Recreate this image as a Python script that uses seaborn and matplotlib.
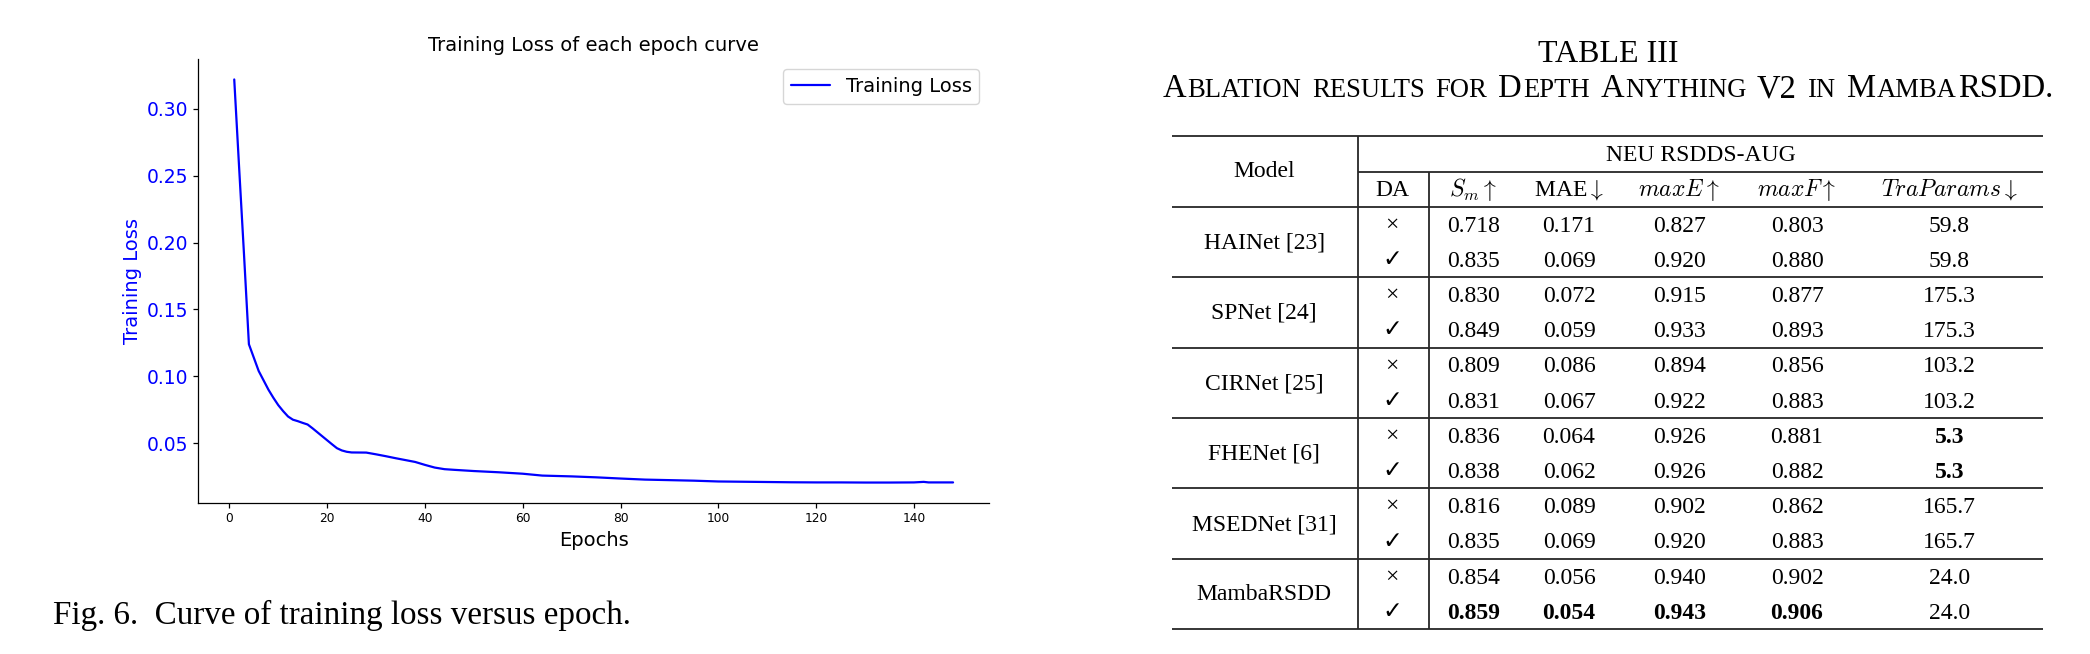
import matplotlib
matplotlib.use('Agg')
import matplotlib.pyplot as plt
import seaborn as sns
import pandas as pd

# ---------------- data: training-loss curve ----------------
epochs = [1, 2, 3, 4, 5, 6, 7, 8, 9, 10, 11, 12, 13, 14, 15, 16, 17, 18, 19, 20,
          21, 22, 23, 24, 25, 28, 30, 32, 34, 36, 38, 40, 42, 44, 46, 50, 55, 60,
          64, 70, 75, 80, 85, 90, 95, 100, 105, 110, 115, 120, 125, 130, 135,
          140, 142, 143, 148]
loss = [0.322, 0.256, 0.191, 0.124, 0.114, 0.104, 0.097, 0.090, 0.084, 0.0785,
        0.074, 0.070, 0.0676, 0.0665, 0.0652, 0.0640, 0.0612, 0.0582, 0.0552, 0.0522,
        0.0492, 0.0463, 0.0446, 0.0436, 0.0431, 0.0430, 0.0417, 0.0403, 0.0388, 0.0374,
        0.0360, 0.0338, 0.0318, 0.0306, 0.0301, 0.0292, 0.0283, 0.0272, 0.0258, 0.0252,
        0.0245, 0.0236, 0.0228, 0.0224, 0.0220, 0.0214, 0.0212, 0.0210, 0.0208, 0.0207,
        0.0207, 0.0206, 0.0206, 0.0207, 0.0211, 0.0207, 0.0207]

# ---------------- data: ablation table ----------------
models = ['HAINet [23]', 'SPNet [24]', 'CIRNet [25]', 'FHENet [6]', 'MSEDNet [31]', 'MambaRSDD']
da_marks = ['\u00d7', '\u2713']
sm_vals = [[0.718, 0.835], [0.830, 0.849], [0.809, 0.831], [0.836, 0.838], [0.816, 0.835], [0.854, 0.859]]
mae_vals = [[0.171, 0.069], [0.072, 0.059], [0.086, 0.067], [0.064, 0.062], [0.089, 0.069], [0.056, 0.054]]
maxe_vals = [[0.827, 0.920], [0.915, 0.933], [0.894, 0.922], [0.926, 0.926], [0.902, 0.920], [0.940, 0.943]]
maxf_vals = [[0.803, 0.880], [0.877, 0.893], [0.856, 0.883], [0.881, 0.882], [0.862, 0.883], [0.902, 0.906]]
params = [59.8, 175.3, 103.2, 5.3, 165.7, 24.0]
col_headers = [r'$S_m\uparrow$', r'MAE$\downarrow$', r'$maxE\uparrow$', r'$maxF\uparrow$', r'$TraParams\downarrow$']
higher_better = [True, False, True, True, False]
table_title = 'TABLE III'
table_subtitle = 'Ablation results for Depth Anything V2 in MambaRSDD.'
dataset_name = 'NEU RSDDS-AUG'
fig_caption = 'Fig. 6.  Curve of training loss versus epoch.'

# ---------------- style ----------------
sns.set_style('ticks', rc={'axes.edgecolor': 'black', 'xtick.color': 'black',
                           'ytick.color': 'black', 'text.color': 'black',
                           'axes.labelcolor': 'black'})
plt.rcParams['font.family'] = ['DejaVu Sans']
plt.rcParams['mathtext.fontset'] = 'cm'

W, H = 2090, 654
fig = plt.figure(figsize=(W / 100, H / 100), dpi=100)

# ---------------- chart ----------------
ax = fig.add_axes([198.3 / W, 1 - 502.7 / H, (989 - 198.3) / W, (502.7 - 59.3) / H])
df = pd.DataFrame({'Epochs': epochs, 'Training Loss': loss})
sns.lineplot(data=df, x='Epochs', y='Training Loss', color='blue', linewidth=1.6,
             label='Training Loss', ax=ax)
ax.set_title('Training Loss of each epoch curve', fontsize=14)
ax.set_xlabel('Epochs', fontsize=14)
ax.set_ylabel('Training Loss', fontsize=14, color='blue')
ax.tick_params(axis='y', labelcolor='blue', labelsize=13.5, width=0.9)
ax.tick_params(axis='x', labelsize=8.8, width=0.9)
for s in ax.spines.values():
    s.set_linewidth(0.9)
sns.despine(ax=ax)
ax.legend(loc='upper right', fontsize=14)

# ---------------- table (overlay in pixel units) ----------------
tab = fig.add_axes([0, 0, 1, 1])
tab.set_xlim(0, W)
tab.set_ylim(H, 0)
tab.axis('off')
renderer = fig.canvas.get_renderer()

serif = ['Liberation Serif', 'DejaVu Serif']
serif_sym = ['Liberation Serif', 'DejaVu Sans']
body = 17

tab.text(53, 624, fig_caption, fontsize=23.9, family=serif, ha='left', va='baseline')

tab_left, tab_right = 1172.3, 2043.3
tab_cx = (tab_left + tab_right) / 2
tab.text(tab_cx, 61.7, table_title, fontsize=23, family=serif, ha='center', va='baseline')


def small_caps(text, xc, y, big, small):
    pieces = []
    x = 0.0
    space = 0.33 * big * 100 / 72
    gap = 0.04 * small * 100 / 72
    for w in text.split(' '):
        runs = []
        for ch in w:
            is_small = ch.islower()
            if runs and runs[-1][1] == is_small:
                runs[-1][0] += ch.upper()
            else:
                runs.append([ch.upper(), is_small])
        for i, (s, is_small) in enumerate(runs):
            t = tab.text(x, y, s, fontsize=small if is_small else big, family=serif,
                         ha='left', va='baseline')
            x += t.get_window_extent(renderer).width
            if i < len(runs) - 1:
                x += gap
            pieces.append(t)
        x += space
    total = x - space
    for t in pieces:
        px, py = t.get_position()
        t.set_position((px + xc - total / 2, py))


small_caps(table_subtitle, tab_cx, 97.3, 23.5, 19.2)

# rules
top_rule, mid_rule, head_rule = 135.7, 172.0, 206.7
grp_h = 70.4
row_h = grp_h / 2
n = len(models)
bottom_rule = head_rule + grp_h * n
vline1, vline2 = 1358.3, 1428.7
rule_kw = dict(colors='#262626', linewidth=1.3)
tab.hlines([top_rule, head_rule] + [head_rule + grp_h * (k + 1) for k in range(n)],
           tab_left, tab_right, **rule_kw)
tab.hlines([mid_rule], vline1, tab_right, **rule_kw)
tab.vlines([vline1], top_rule, bottom_rule, **rule_kw)
tab.vlines([vline2], mid_rule, bottom_rule, **rule_kw)

# headers
x_model, x_da = 1264.3, 1392.3
x_cols = [1473.3, 1569.0, 1679.3, 1797.0, 1949.3]
tab.text(x_model, 176.7, 'Model', fontsize=body, family=serif, ha='center', va='baseline')
tab.text((vline1 + tab_right) / 2, 160.7, dataset_name, fontsize=body, family=serif,
         ha='center', va='baseline')
tab.text(x_da, 196.0, 'DA', fontsize=body, family=serif, ha='center', va='baseline')
for xc, h in zip(x_cols, col_headers):
    tab.text(xc, 196.0, h, fontsize=body, family=serif, ha='center', va='baseline')

# body
columns = [sm_vals, mae_vals, maxe_vals, maxf_vals, [[p, p] for p in params]]
fmts = ['{:.3f}', '{:.3f}', '{:.3f}', '{:.3f}', '{:.1f}']
for ci, col in enumerate(columns):
    flat = [v for g in col for v in g]
    best = max(flat) if higher_better[ci] else min(flat)
    for gi, g in enumerate(col):
        for r, v in enumerate(g):
            y = head_rule + grp_h * gi + row_h / 2 + row_h * r + 7.3
            tab.text(x_cols[ci], y, fmts[ci].format(v), fontsize=body, family=serif,
                     ha='center', va='baseline',
                     fontweight='bold' if v == best else 'normal')
for gi, m in enumerate(models):
    yc = head_rule + grp_h * gi + grp_h / 2
    tab.text(x_model, yc + 6.5, m, fontsize=body, family=serif, ha='center', va='baseline')
    for r, mk in enumerate(da_marks):
        y = head_rule + grp_h * gi + row_h / 2 + row_h * r + 6.5
        tab.text(x_da, y, mk, fontsize=body, family=serif_sym, ha='center', va='baseline')

fig.savefig('out.png', dpi=100)
